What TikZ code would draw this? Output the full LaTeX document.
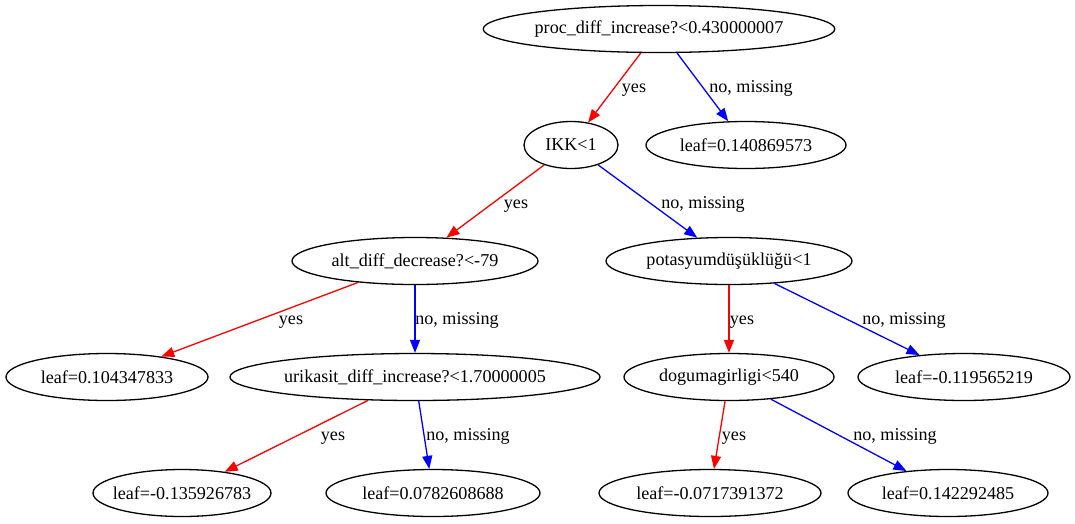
\documentclass[tikz,border=0pt]{standalone}
\usepackage{fontspec}
\setmainfont{Liberation Serif}
\usetikzlibrary{shapes.geometric,arrows.meta}
\definecolor{yescol}{rgb}{1,0,0}
\definecolor{nocol}{rgb}{0,0,1}

\begin{document}
\begin{tikzpicture}[x=1pt,y=-1pt,
        tnode/.style={draw,ellipse,line width=1.3pt,inner sep=0pt,minimum height=47pt,font=\fontsize{18.1}{22}\selectfont},
        yesarr/.style={yescol,line width=1.3pt,-{Triangle[length=13pt,width=10pt]}},
        noarr/.style={nocol,line width=1.3pt,-{Triangle[length=13pt,width=10pt]}},
        lbl/.style={black,inner sep=0pt,text height=12pt,text depth=4pt,font=\fontsize{18.1}{22}\selectfont}]
        \useasboundingbox (0,0) rectangle (1075,523);
        % split nodes
        \node[tnode,minimum width=350pt] (root) at (659,29) {proc\_diff\_increase?<0.430000007};
        \node[tnode,minimum width=94pt] (ikk) at (571,145) {IKK<1};
        \node[tnode,minimum width=246pt] (alt) at (415,261) {alt\_diff\_decrease?<-79};
        \node[tnode,minimum width=246pt] (pot) at (729,261) {potasyumdüşüklüğü<1};
        \node[tnode,minimum width=370pt] (uri) at (415,377) {urikasit\_diff\_increase?<1.70000005};
        \node[tnode,minimum width=210pt] (dog) at (729,377) {dogumagirligi<540};
        % leaves
        \node[tnode,minimum width=200pt] (leafa) at (746,145) {leaf=0.140869573};
        \node[tnode,minimum width=202pt] (leafb) at (107,377) {leaf=0.104347833};
        \node[tnode,minimum width=212pt] (leafc) at (964,377) {leaf=-0.119565219};
        \node[tnode,minimum width=178pt,inner xsep=-7pt] (leafd) at (182,493) {leaf=-0.135926783};
        \node[tnode,minimum width=214pt] (leafe) at (433,493) {leaf=0.0782608688};
        \node[tnode,minimum width=222pt] (leaff) at (710,493) {leaf=-0.0717391372};
        \node[tnode,minimum width=200pt] (leafg) at (948,493) {leaf=0.142292485};
        % edges
        \draw[yesarr] (root) -- (ikk) node[lbl] at (634,88) {yes};
        \draw[noarr] (root) -- (leafa) node[lbl] at (751,88) {no, missing};
        \draw[yesarr] (ikk) -- (alt) node[lbl] at (516,204) {yes};
        \draw[noarr] (ikk) -- (pot) node[lbl] at (703,204) {no, missing};
        \draw[yesarr] (alt) -- (leafb) node[lbl] at (291,320) {yes};
        \draw[noarr] (alt) -- (uri) node[lbl] at (457,320) {no, missing};
        \draw[yesarr] (pot) -- (dog) node[lbl] at (742,320) {yes};
        \draw[noarr] (pot) -- (leafc) node[lbl] at (904,320) {no, missing};
        \draw[yesarr] (uri) -- (leafd) node[lbl] at (333,436) {yes};
        \draw[noarr] (uri) -- (leafe) node[lbl] at (468,436) {no, missing};
        \draw[yesarr] (dog) -- (leaff) node[lbl] at (734,436) {yes};
        \draw[noarr] (dog) -- (leafg) node[lbl] at (895,436) {no, missing};
    \end{tikzpicture}
\end{document}
